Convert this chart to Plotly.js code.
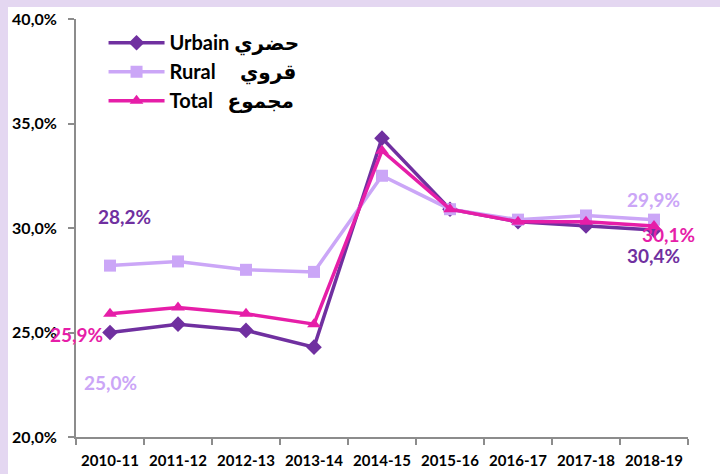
<!DOCTYPE html>
<html><head><meta charset="utf-8">
<script src="https://cdn.plot.ly/plotly-3.0.1.min.js"></script>
<style>
html,body{margin:0;padding:0;background:#E4D7F1;width:720px;height:474px;overflow:hidden;}
#plot{position:absolute;left:8px;top:7px;width:712px;height:467px;background:#fff;}
</style></head>
<body><div id="plot"></div>
<script>
const years = ["2010-11","2011-12","2012-13","2013-14","2014-15","2015-16","2016-17","2017-18","2018-19"];
const urbain = [25.0, 25.4, 25.1, 24.3, 34.3, 30.9, 30.3, 30.1, 29.9];
const rural  = [28.2, 28.4, 28.0, 27.9, 32.5, 30.9, 30.4, 30.6, 30.4];
const total  = [25.9, 26.2, 25.9, 25.4, 33.7, 30.9, 30.3, 30.3, 30.1];
const seriesNames = ["Urbain حضري", "Rural\u00a0\u00a0\u00a0\u00a0 قروي", "Total\u00a0\u00a0 مجموع"];
const labelTexts = ["28,2%", "25,0%", "25,9%", "29,9%", "30,1%", "30,4%"];

const cU = "#7030A0", cR = "#CBA6F7", cT = "#E61EA8";
const font = "Lato, 'Open Sans', 'DejaVu Sans', sans-serif";

function tr(y, name, color, sym, size){
  return {x: years, y: y, name: name, type: "scatter", mode: "lines+markers",
    line: {color: color, width: 3.5}, marker: {symbol: sym, size: size, color: color}};
}
const data = [
  tr(urbain, seriesNames[0], cU, "diamond", 12),
  tr(rural, seriesNames[1], cR, "square", 12),
  tr(total, seriesNames[2], cT, "triangle-up", 12)
];
function ann(text, x, y, color){
  return {text: text, x: x, y: y, xref: "x", yref: "y", showarrow: false,
    font: {family: font, size: 19, color: color, weight: "bold"}};
}
const layout = {
  width: 712, height: 467,
  margin: {l: 68, r: 32, t: 12, b: 37},
  paper_bgcolor: "#ffffff", plot_bgcolor: "#ffffff",
  separators: ",.",
  showlegend: true,
  legend: {x: 0.045, y: 0.99, xanchor: "left", yanchor: "top", bgcolor: "rgba(0,0,0,0)",
    itemwidth: 56,
    font: {family: font, size: 20, color: "#000", weight: "bold"}, tracegroupgap: 0},
  xaxis: {type: "category", range: [-0.5, 8.5], showline: true, linecolor: "#8c8c8c", linewidth: 2,
    ticks: "outside", tickson: "boundaries", ticklen: 6, tickcolor: "#8c8c8c", tickwidth: 2,
    showgrid: false, zeroline: false, tickangle: 0, automargin: false, ticklabelstandoff: 9,
    tickfont: {family: font, size: 15, color: "#000", weight: "bold"}},
  yaxis: {range: [20, 40], dtick: 5, tickformat: ".1f", ticksuffix: "%", showline: true,
    linecolor: "#8c8c8c", linewidth: 2, ticks: "outside", ticklen: 6, tickcolor: "#8c8c8c", tickwidth: 2,
    showgrid: false, zeroline: false, automargin: false, ticklabelstandoff: 8,
    tickfont: {family: font, size: 16, color: "#000", weight: "bold"}},
  annotations: [
    ann(labelTexts[0], 0.22, 30.55, cU),
    ann(labelTexts[1], 0.0, 22.6, cR),
    ann(labelTexts[2], -0.5, 24.9, cT),
    ann(labelTexts[3], 7.99, 31.35, cR),
    ann(labelTexts[4], 8.22, 29.7, cT),
    ann(labelTexts[5], 7.99, 28.7, cU)
  ]
};
Plotly.newPlot("plot", data, layout, {staticPlot: true});
</script></body></html>
